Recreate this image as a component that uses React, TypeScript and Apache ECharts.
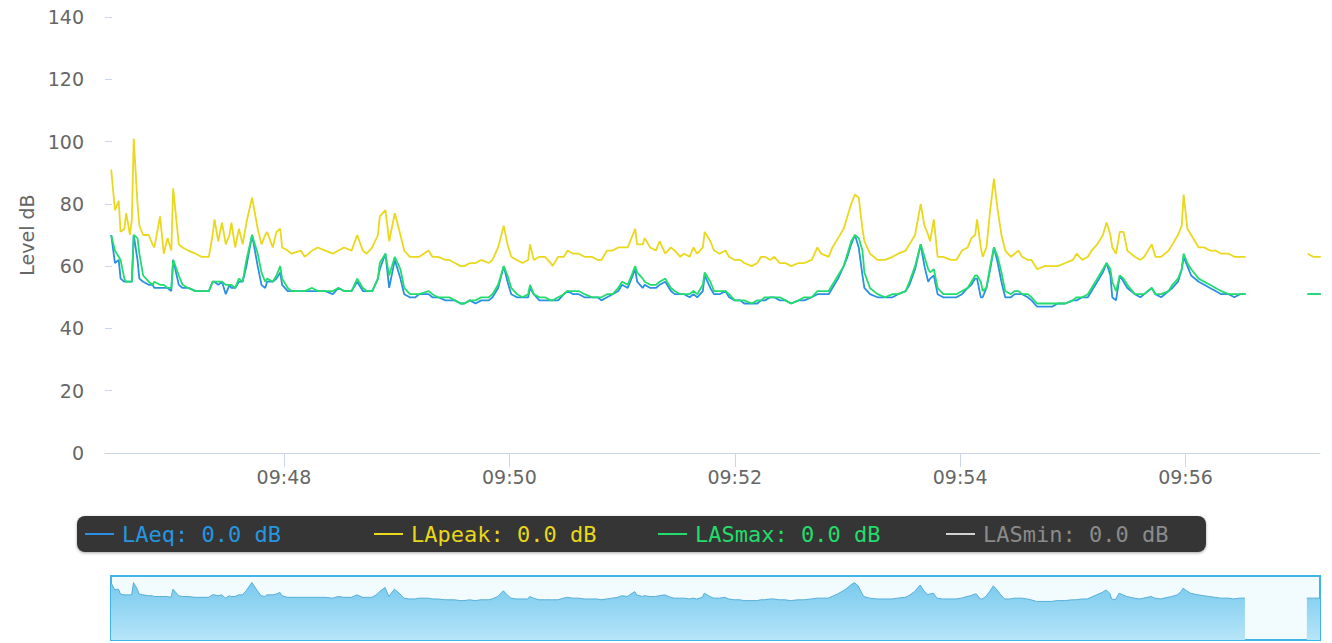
import React, { useEffect, useRef } from "react";
import * as echarts from "echarts";

// Seconds after 09:46:00
const TIMES: number[] = [
  28, 30, 32, 33, 35, 36, 38, 39, 40, 42, 43, 45, 48, 50, 51, 54, 56, 58, 60, 61,
  64, 66, 69, 73, 76, 80, 82, 83, 85, 87, 89, 91, 92, 94, 96, 98, 100, 103, 106, 108,
  110, 111, 114, 116, 118, 119, 122, 124, 129, 131, 135, 138, 142, 146, 149, 152, 156, 159, 162, 164,
  167, 170, 171, 174, 176, 179, 182, 184, 187,
  190, 192, 197, 199, 202, 206, 208, 211, 214, 216, 219, 222, 225, 229, 231, 234, 237, 239, 241, 244,
  247, 250, 251, 253, 256, 259, 262, 263, 266, 269, 271, 274, 277, 280, 284, 287, 289, 292, 295, 298,
  300, 303, 305, 307, 308, 311, 312, 315, 318, 320, 323, 326, 328, 331, 333, 336, 338, 340, 343, 344, 347,
  349, 352, 355, 357, 360, 363, 365, 369, 372, 374, 376, 379, 381, 384, 387, 390, 394, 397, 401, 404,
  406, 410, 412, 415, 418, 420, 422, 424, 426, 428, 429, 432, 436, 440, 444, 447, 451, 453, 456, 459,
  461, 463, 464, 466, 468, 471, 475, 478, 481, 484, 486, 488, 489, 491, 492, 494, 496, 498, 500, 502, 504, 507,
  509, 511, 513, 516, 518, 521, 525, 529, 532, 536, 540, 542, 545, 548, 550, 553, 556, 558, 560, 561,
  563, 565, 567, 569, 573, 576, 578, 582, 584, 587, 591, 593, 596, 598, 599, 601, 603, 607, 610, 613,
  616, 619, 623, 626, 629, 632, 650, 665, 668, 672,
];

const LAPEAK: (number | null)[] = [
  91, 78, 81, 71, 72, 77, 70, 75, 101, 80, 73, 70, 70, 67, 66, 76, 64, 69, 65, 85,
  67, 66, 65, 64, 63, 63, 70, 75, 68, 74, 67, 70, 74, 66, 72, 67, 74, 82, 72, 67,
  70, 71, 66, 71, 72, 66, 65, 64, 65, 63, 65, 66, 65, 64, 65, 66, 65, 70, 65, 64,
  66, 70, 76, 78, 68, 77, 70, 65, 63,
  63, 63, 65, 63, 63, 62, 62, 61, 60, 60, 61, 61, 62, 61, 62, 66, 73, 67, 63, 62,
  61, 62, 67, 62, 63, 63, 61, 60, 63, 63, 65, 64, 64, 63, 63, 62, 62, 65, 65, 66,
  66, 66, 69, 72, 67, 67, 69, 66, 65, 68, 64, 66, 65, 63, 64, 63, 66, 64, 66, 71, 68,
  65, 64, 65, 63, 62, 62, 61, 60, 61, 63, 63, 62, 63, 61, 61, 60, 61, 61, 62, 66,
  64, 63, 66, 69, 72, 76, 80, 83, 82, 72, 68, 64, 62, 62, 63, 64, 65, 67, 70, 80,
  73, 70, 68, 75, 63, 63, 62, 62, 65, 66, 69, 70, 75, 66, 63, 66, 78, 88, 78, 70, 65, 63,
  64, 65, 63, 62, 62, 59, 60, 60, 60, 61, 62, 64, 62, 63, 65, 67, 70, 74, 70, 66,
  64, 71, 71, 65, 63, 62, 63, 67, 63, 63, 65, 67, 70, 73, 83, 72, 70, 66, 66, 65,
  65, 64, 64, 63, 63, 63, null, 64, 63, 63,
];

const LASMAX: (number | null)[] = [
  70, 65, 63, 62, 56, 55, 55, 55, 70, 69, 64, 57, 55, 54, 55, 54, 54, 53, 53, 62,
  57, 54, 53, 52, 52, 52, 55, 55, 55, 55, 54, 54, 54, 53, 56, 55, 62, 70, 64, 58,
  55, 56, 55, 57, 60, 56, 53, 52, 52, 52, 53, 52, 52, 52, 53, 52, 52, 56, 53, 52,
  52, 56, 61, 64, 57, 63, 59, 53, 51,
  51, 51, 52, 51, 50, 50, 50, 49, 48, 48, 49, 49, 50, 50, 51, 54, 60, 57, 53, 51,
  50, 51, 54, 51, 50, 50, 49, 49, 50, 51, 52, 52, 52, 51, 50, 50, 50, 51, 51, 53,
  55, 54, 57, 60, 58, 56, 55, 54, 54, 55, 56, 53, 52, 51, 51, 51, 52, 51, 54, 58, 55,
  52, 52, 52, 51, 49, 49, 49, 48, 49, 49, 50, 50, 50, 50, 49, 48, 49, 50, 50, 52,
  52, 52, 54, 57, 60, 64, 68, 70, 69, 65, 58, 53, 51, 50, 51, 51, 52, 55, 60, 67,
  63, 59, 58, 59, 53, 51, 51, 51, 52, 53, 55, 57, 57, 55, 52, 53, 60, 66, 63, 58, 52, 51,
  52, 52, 51, 51, 50, 48, 48, 48, 48, 48, 49, 50, 50, 51, 53, 56, 59, 61, 59, 55,
  52, 57, 56, 54, 51, 51, 51, 53, 51, 51, 52, 54, 56, 59, 64, 61, 59, 56, 55, 54,
  53, 52, 51, 51, 51, 51, null, 51, 51, 51,
];

const LAEQ: (number | null)[] = [
  70, 61, 62, 56, 55, 55, 55, 55, 70, 62, 56, 55, 54, 54, 53, 53, 53, 53, 52, 62,
  54, 53, 53, 52, 52, 52, 55, 55, 54, 55, 51, 54, 53, 53, 55, 55, 60, 70, 60, 54,
  53, 55, 55, 56, 58, 54, 52, 52, 52, 52, 52, 52, 52, 51, 53, 52, 52, 55, 52, 52,
  52, 56, 59, 64, 53, 62, 56, 51, 50,
  50, 51, 51, 50, 50, 49, 49, 49, 48, 48, 49, 48, 49, 49, 50, 53, 60, 55, 51, 50,
  50, 50, 53, 51, 49, 49, 49, 49, 49, 51, 52, 51, 51, 50, 50, 50, 49, 50, 51, 52,
  54, 53, 56, 59, 55, 53, 54, 53, 53, 54, 55, 52, 51, 51, 51, 50, 51, 50, 52, 57, 53,
  51, 51, 52, 50, 49, 49, 48, 48, 48, 49, 49, 50, 50, 49, 49, 48, 49, 49, 50, 51,
  51, 51, 53, 56, 60, 63, 67, 70, 66, 57, 53, 51, 50, 50, 50, 51, 52, 54, 59, 67,
  60, 55, 56, 57, 51, 50, 50, 50, 51, 53, 54, 56, 56, 50, 50, 53, 59, 66, 61, 55, 50, 50,
  51, 51, 51, 50, 49, 47, 47, 47, 48, 48, 49, 49, 50, 50, 52, 55, 58, 61, 57, 50,
  49, 57, 55, 53, 51, 50, 51, 53, 51, 50, 52, 53, 55, 59, 63, 60, 57, 55, 54, 53,
  52, 51, 51, 50, 51, 51, null, 51, 51, 51,
];

const SERIES_NAMES = ["LAeq", "LApeak", "LASmax", "LASmin"];
const LEGEND_VALUES = [0.0, 0.0, 0.0, 0.0];
const X_TICKS = [120, 240, 360, 480, 600];
const START_HOUR = 9;
const START_MINUTE = 46;

const LINE_COLORS = ["#2b8fe3", "#ead81c", "#22dd6b", "#d2d2d2"];
const TEXT_COLORS = ["#2596e0", "#e8d71c", "#22dd6b", "#8a8a8a"];
const LEGEND_LEFT = [85, 374, 658, 946];

function fmtTime(s: number): string {
  const total = START_HOUR * 60 + START_MINUTE + Math.floor(s / 60);
  const h = Math.floor(total / 60);
  const m = total % 60;
  return `${String(h).padStart(2, "0")}:${String(m).padStart(2, "0")}`;
}

function pairs(values: (number | null)[]) {
  return TIMES.map((t, i) => [t, values[i] === null ? null : values[i]]);
}

export default function App() {
  const ref = useRef<HTMLDivElement>(null);

  useEffect(() => {
    if (!ref.current) return;
    const chart = echarts.init(ref.current, undefined, { renderer: "svg" });
    const axisColor = "#ccd6eb";
    const labelFont = "DejaVu Sans";

    const seriesData = [LAEQ, LAPEAK, LASMAX];
    const mainSeries: any[] = SERIES_NAMES.map((name, i) => ({
      name,
      type: "line",
      xAxisIndex: 0,
      yAxisIndex: 0,
      data: i < 3 ? pairs(seriesData[i]) : [],
      showSymbol: false,
      symbol: "none",
      color: LINE_COLORS[i],
      lineStyle: { width: 1.8, color: LINE_COLORS[i] },
      connectNulls: false,
      emphasis: { disabled: true },
      z: i === 2 ? 4 : 3,
    }));

    const option: any = {
      animation: false,
      grid: [
        { left: 105, right: 12, top: 17, bottom: 190 },
        {
          left: 111,
          right: 12,
          top: 576,
          height: 64,
          show: true,
          backgroundColor: "#f2fbfe",
          borderColor: "#41b5e6",
          borderWidth: 2,
        },
      ],
      xAxis: [
        {
          type: "value",
          gridIndex: 0,
          min: 24.7,
          max: 671.6,
          axisLine: { show: true, lineStyle: { color: axisColor, width: 1 } },
          axisTick: {
            show: true,
            customValues: X_TICKS,
            length: 14,
            lineStyle: { color: axisColor },
          },
          axisLabel: {
            customValues: X_TICKS,
            formatter: (v: number) => fmtTime(v),
            fontSize: 19,
            fontFamily: labelFont,
            color: "#666666",
            margin: 14,
          },
          splitLine: { show: false },
        },
        {
          type: "value",
          gridIndex: 1,
          min: TIMES[0],
          max: TIMES[TIMES.length - 1],
          show: false,
        },
      ],
      yAxis: [
        {
          type: "value",
          gridIndex: 0,
          min: 0,
          max: 140,
          interval: 20,
          name: "Level dB",
          nameLocation: "middle",
          nameGap: 66,
          nameTextStyle: { fontSize: 19, fontFamily: labelFont, color: "#666666" },
          axisLine: { show: false },
          axisTick: { show: true, inside: true, length: 7, lineStyle: { color: axisColor } },
          axisLabel: { fontSize: 19, fontFamily: labelFont, color: "#666666", margin: 21 },
          splitLine: { show: false },
        },
        { type: "value", gridIndex: 1, min: 0, max: 78, show: false },
      ],
      legend: SERIES_NAMES.map((name, i) => ({
        data: [name],
        left: LEGEND_LEFT[i],
        top: 523,
        padding: 0,
        icon: "rect",
        itemWidth: 29,
        itemHeight: 2,
        selectedMode: false,
        z: 10,
        formatter: () => `${name}: ${LEGEND_VALUES[i].toFixed(1)} dB`,
        textStyle: {
          color: TEXT_COLORS[i],
          fontFamily: "DejaVu Sans Mono",
          fontSize: 22,
          padding: [0, 0, 0, 3],
        },
      })),
      graphic: [
        {
          type: "rect",
          z: 0,
          shape: { x: 77, y: 516, width: 1129, height: 36, r: 8 },
          style: {
            fill: "#363636",
            shadowBlur: 3,
            shadowColor: "rgba(0,0,0,0.35)",
            shadowOffsetY: 1,
          },
        },
      ],
      series: [
        ...mainSeries,
        {
          name: "navigator",
          type: "line",
          xAxisIndex: 1,
          yAxisIndex: 1,
          data: pairs(LAEQ),
          symbol: "none",
          showSymbol: false,
          connectNulls: false,
          lineStyle: { width: 1, color: "#58afd8" },
          areaStyle: {
            color: new echarts.graphic.LinearGradient(0, 0, 0, 1, [
              { offset: 0, color: "#79caee" },
              { offset: 1, color: "#b6e5f8" },
            ]),
            opacity: 1,
          },
          emphasis: { disabled: true },
          silent: true,
        },
      ],
    };
    chart.setOption(option);
    return () => chart.dispose();
  }, []);

  return (
    <div
      ref={ref}
      style={{ position: "fixed", left: 0, top: 0, width: "1332px", height: "643px", background: "#fff" }}
    />
  );
}
